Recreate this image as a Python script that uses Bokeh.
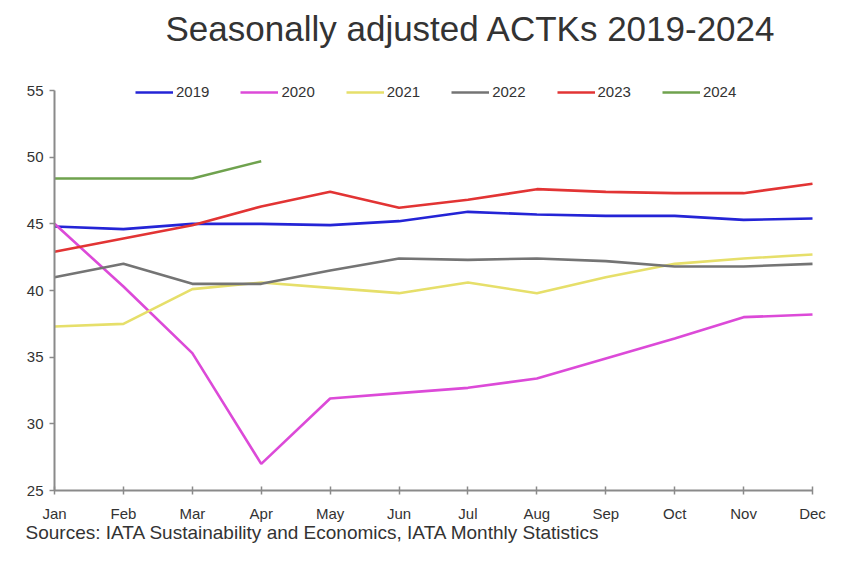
from bokeh.plotting import figure
from bokeh.models import Label, Legend, LegendItem, FixedTicker, Range1d, LinearAxis
from bokeh.embed import file_html
from bokeh.resources import INLINE

months = ["Jan", "Feb", "Mar", "Apr", "May", "Jun", "Jul", "Aug", "Sep", "Oct", "Nov", "Dec"]
y2019 = [44.8, 44.6, 45.0, 45.0, 44.9, 45.2, 45.9, 45.7, 45.6, 45.6, 45.3, 45.4]
y2020 = [45.0, 40.3, 35.3, 27.0, 31.9, 32.3, 32.7, 33.4, 34.9, 36.4, 38.0, 38.2]
y2021 = [37.3, 37.5, 40.1, 40.6, 40.2, 39.8, 40.6, 39.8, 41.0, 42.0, 42.4, 42.7]
y2022 = [41.0, 42.0, 40.5, 40.5, 41.5, 42.4, 42.3, 42.4, 42.2, 41.8, 41.8, 42.0]
y2023 = [42.9, 43.9, 44.9, 46.3, 47.4, 46.2, 46.8, 47.6, 47.4, 47.3, 47.3, 48.0]
y2024 = [48.4, 48.4, 48.4, 49.7]
years = ["2019", "2020", "2021", "2022", "2023", "2024"]
colors = ["#2424d6", "#dc4ad8", "#e6df6a", "#747474", "#e23434", "#6fa24e"]
series = [y2019, y2020, y2021, y2022, y2023, y2024]
y_ticks = [25, 30, 35, 40, 45, 50, 55]
title_text = "Seasonally adjusted ACTKs 2019-2024"
source_text = "Sources: IATA Sustainability and Economics, IATA Monthly Statistics"

FONT = "Liberation Sans"
W, H = 827, 547
# pixel layout of the plotting area within the canvas
X_JAN, X_DEC = 54, 812
Y_55, Y_25 = 90, 490
px_x = (X_DEC - X_JAN) / 11
px_y = (Y_25 - Y_55) / 30

p = figure(width=W, height=H, output_backend="svg", toolbar_location=None,
           x_range=Range1d(0 - X_JAN / px_x, 11 + (W - X_DEC) / px_x),
           y_range=Range1d(25 - (H - Y_25) / px_y, 55 + Y_55 / px_y),
           x_axis_location=None, y_axis_location=None,
           min_border=0)
p.outline_line_color = None
p.xgrid.visible = False
p.ygrid.visible = False

items = []
for yr, col, vals in zip(years, colors, series):
    r = p.line(list(range(len(vals))), vals, line_color=col, line_width=2.6)
    items.append(LegendItem(label=yr, renderers=[r]))

legend = Legend(items=items, orientation="horizontal", location=(135, H - 93 - 7),
                label_text_font=FONT, label_text_font_size="15px", label_text_color="#333333",
                glyph_width=38, glyph_height=10, label_height=14, label_standoff=3, spacing=31,
                border_line_color=None, background_fill_alpha=0, margin=0, padding=0)
p.add_layout(legend)

xaxis = LinearAxis(fixed_location=25, ticker=FixedTicker(ticks=list(range(12))),
                   major_label_overrides={i: m for i, m in enumerate(months)},
                   bounds=(0, 11))
yaxis = LinearAxis(fixed_location=0, ticker=FixedTicker(ticks=y_ticks), bounds=(25, 55))
for ax in (xaxis, yaxis):
    ax.axis_line_color = "#8a8a8a"
    ax.axis_line_width = 2
    ax.major_tick_line_color = "#8a8a8a"
    ax.major_tick_line_width = 1.5
    ax.minor_tick_line_color = None
    ax.major_label_text_font = FONT
    ax.major_label_text_font_size = "15px"
    ax.major_label_text_color = "#333333"
xaxis.major_tick_in = 4
xaxis.major_tick_out = 4
yaxis.major_tick_in = 0
yaxis.major_tick_out = 5
xaxis.major_label_standoff = 10
yaxis.major_label_standoff = 6
p.add_layout(xaxis, "below")
p.add_layout(yaxis, "left")

p.add_layout(Label(x=165, y=H - 28, x_units="screen", y_units="screen", text=title_text,
                   text_font=FONT, text_font_size="35px", text_color="#333333",
                   text_baseline="middle", text_align="left"))
p.add_layout(Label(x=25, y=H - 532, x_units="screen", y_units="screen", text=source_text,
                   text_font=FONT, text_font_size="19px", text_color="#333333",
                   text_baseline="middle", text_align="left"))

open("out.html", "w").write(file_html(p, INLINE))
